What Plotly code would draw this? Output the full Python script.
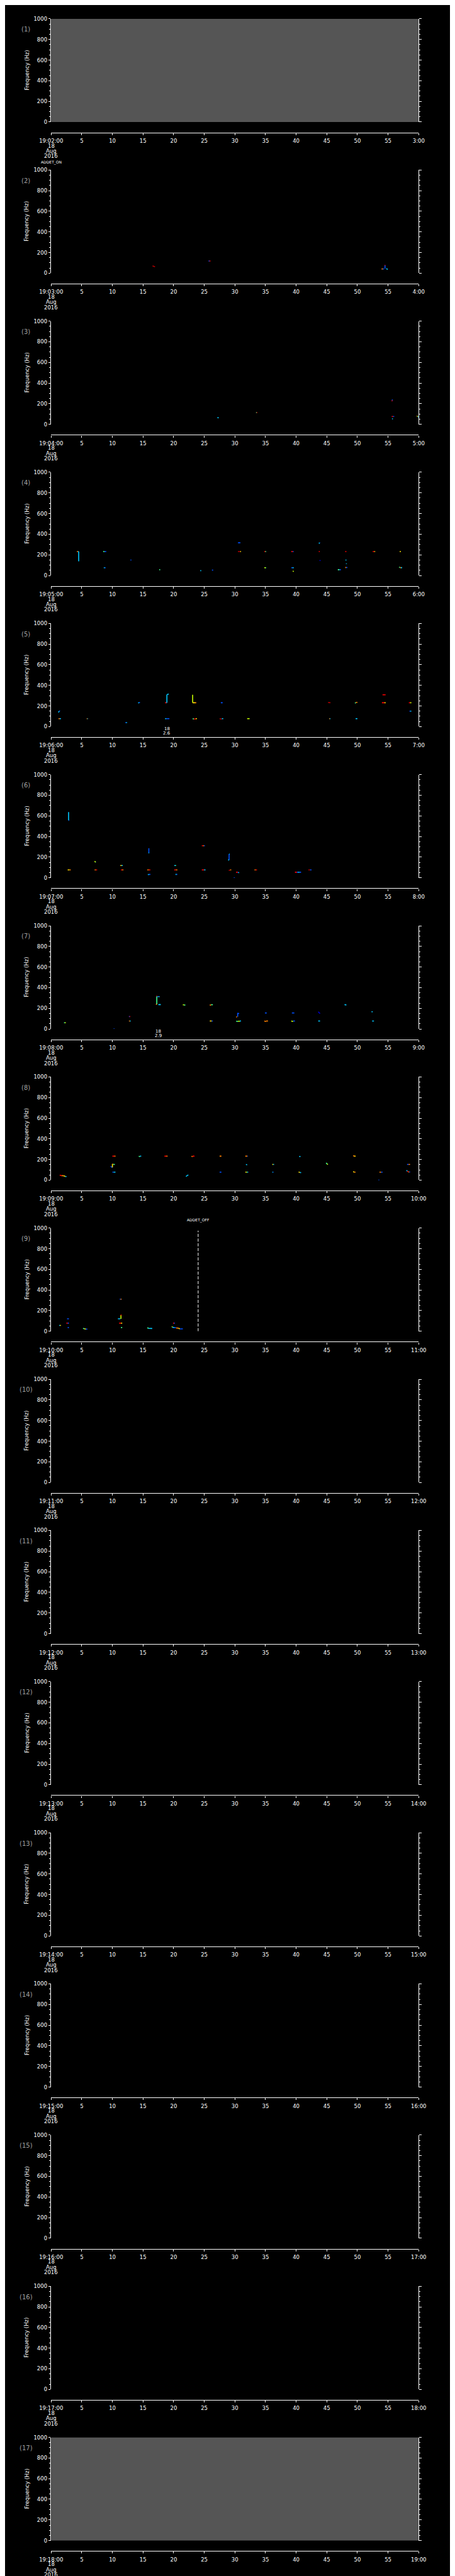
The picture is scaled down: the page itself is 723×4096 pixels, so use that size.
import plotly.graph_objects as go

# ---------------- data ----------------
START_MINUTES = list(range(2, 19))          # panel k starts at 19:MM:00
DATE_LINES = ["18", "Aug", "2016"]
X_TICK_SECONDS = list(range(0, 61, 5))
Y_TICKS = [0, 200, 400, 600, 800, 1000]
T_RANGE = [0, 60]
F_RANGE = [0, 1000]
GRAY_PANELS = [1, 17]                        # panels with no data (filled gray)
ADDET_ON_PANEL, ADDET_ON_T = 1, 0.0
ADDET_OFF_PANEL, ADDET_OFF_T, ADDET_OFF_FTOP = 9, 24.0, 975
EVENTS = [(5, 18.9, "18", "2.6"), (7, 17.5, "18", "2.9")]

# marks: (t0 [s], t1 [s], f0 [Hz], f1 [Hz], power level 0..8)
P02_MARKS = [
    (16.55, 16.96, 71, 61, 8), (25.7, 25.85, 118, 118, 1), (25.85, 26.0, 118, 118, 7),
    (54.5, 54.5, 77, 44, 1), (54.45, 54.55, 77, 77, 7), (54.7, 54.95, 44, 37, 2),
    (53.95, 54.15, 41, 41, 6), (54.15, 54.35, 41, 41, 1),
]
P03_MARKS = [
    (27.15, 27.35, 66, 62, 2), (33.45, 33.55, 114, 114, 3), (33.55, 33.65, 114, 114, 7),
    (55.7, 55.7, 240, 232, 1), (55.65, 55.65, 232, 224, 7), (55.6, 55.8, 76, 76, 7),
    (55.8, 56.0, 76, 76, 1), (55.65, 55.8, 53, 53, 2), (59.7, 59.85, 80, 77, 5),
    (59.85, 60.0, 74, 71, 2),
]
P04_MARKS = [
    (4.2, 4.4, 232, 232, 6), (4.4, 4.5, 232, 232, 2), (4.5, 4.5, 232, 137, 2),
    (8.5, 8.7, 234, 230, 3), (8.7, 9.0, 232, 232, 1), (8.6, 8.75, 76, 74, 2), (8.75, 8.9, 75, 75, 1),
    (12.95, 13.1, 150, 150, 1), (17.65, 17.8, 56, 56, 3), (24.35, 24.5, 47, 47, 2),
    (26.25, 26.45, 52, 52, 1), (30.5, 30.9, 317, 317, 1), (30.5, 30.85, 232, 232, 8),
    (30.85, 31.0, 232, 232, 5), (34.8, 34.95, 232, 232, 7), (34.95, 35.1, 232, 232, 3),
    (34.8, 35.0, 77, 73, 4), (35.0, 35.1, 75, 75, 3), (39.2, 39.45, 232, 232, 7),
    (39.45, 39.6, 232, 232, 1), (39.2, 39.4, 75, 75, 1), (39.4, 39.6, 75, 75, 2),
    (39.45, 39.6, 43, 39, 4), (43.7, 43.85, 317, 310, 2), (43.85, 43.9, 317, 317, 1),
    (43.7, 43.85, 232, 232, 7), (43.9, 43.9, 150, 140, 0), (46.8, 47.05, 56, 56, 3),
    (47.05, 47.3, 56, 56, 1), (48.0, 48.2, 232, 232, 7), (48.05, 48.2, 150, 150, 2),
    (48.2, 48.2, 117, 111, 2), (48.0, 48.15, 77, 77, 6), (48.15, 48.35, 77, 77, 1),
    (52.5, 52.75, 232, 232, 7), (52.75, 52.9, 232, 232, 5), (56.9, 57.1, 232, 232, 5),
    (56.8, 56.95, 82, 77, 3), (56.95, 57.1, 76, 76, 6), (57.1, 57.3, 76, 76, 2),
]
P05_MARKS = [
    (1.2, 1.3, 137, 150, 2), (1.3, 1.45, 152, 152, 1), (1.2, 1.4, 77, 77, 6), (1.4, 1.6, 77, 77, 2),
    (5.8, 5.9, 77, 77, 6), (5.9, 6.0, 77, 77, 2), (12.1, 12.25, 39, 39, 1), (12.25, 12.4, 39, 39, 2),
    (14.2, 14.35, 233, 230, 2), (14.35, 14.5, 233, 233, 1),
    (18.6, 18.8, 232, 232, 7), (18.8, 18.9, 232, 232, 2), (18.9, 18.9, 232, 310, 2),
    (18.9, 19.2, 310, 316, 2), (18.6, 18.8, 77, 77, 2), (18.8, 19.3, 77, 77, 1),
    (23.1, 23.1, 309, 232, 4), (23.1, 23.5, 232, 232, 5), (23.5, 23.7, 232, 232, 6),
    (23.1, 23.3, 77, 74, 3), (23.3, 23.6, 74, 74, 7), (23.6, 23.8, 77, 77, 5),
    (27.7, 28.0, 232, 232, 1), (27.5, 27.85, 77, 72, 8), (27.85, 28.1, 77, 77, 2),
    (32.0, 32.4, 77, 77, 4), (45.2, 45.6, 234, 232, 8), (45.4, 45.5, 77, 77, 6),
    (45.5, 45.6, 77, 77, 2), (49.6, 49.75, 228, 232, 3), (49.75, 50.0, 234, 236, 6),
    (49.7, 50.0, 77, 77, 2), (54.1, 54.6, 309, 309, 7), (54.0, 54.4, 232, 232, 7),
    (54.4, 54.6, 232, 232, 5), (58.4, 58.6, 232, 232, 7), (58.6, 58.8, 232, 232, 4),
    (58.5, 58.65, 150, 150, 1), (58.65, 58.8, 150, 150, 2),
]
P06_MARKS = [
    (2.85, 2.85, 637, 558, 2), (2.85, 2.95, 556, 556, 1), (2.7, 3.0, 76, 76, 5), (3.0, 3.2, 76, 76, 6),
    (7.1, 7.25, 161, 152, 4), (7.25, 7.3, 152, 150, 2), (7.1, 7.3, 76, 76, 6), (7.3, 7.5, 76, 76, 7),
    (11.3, 11.5, 119, 119, 5), (11.5, 11.7, 119, 119, 2), (11.4, 11.6, 76, 76, 7), (11.6, 11.8, 76, 76, 6),
    (15.95, 15.95, 287, 241, 1), (15.9, 16.0, 241, 241, 2), (15.7, 15.95, 76, 76, 6),
    (15.95, 16.2, 76, 76, 7), (15.8, 15.95, 33, 29, 2), (15.95, 16.2, 33, 33, 1),
    (20.1, 20.3, 119, 119, 2), (20.3, 20.4, 119, 119, 3), (20.1, 20.35, 76, 76, 7),
    (20.35, 20.6, 76, 76, 6), (20.3, 20.45, 33, 33, 2), (20.45, 20.6, 33, 33, 1),
    (24.6, 24.8, 311, 311, 7), (24.8, 24.95, 311, 311, 6), (24.95, 25.1, 311, 311, 1),
    (24.6, 24.95, 76, 76, 7), (24.95, 25.2, 76, 76, 2),
    (29.05, 29.05, 230, 173, 1), (29.05, 29.15, 230, 230, 2), (28.9, 29.05, 175, 170, 2),
    (29.0, 29.2, 72, 74, 8), (29.2, 29.4, 76, 76, 6), (30.2, 30.45, 54, 54, 7),
    (30.45, 30.55, 54, 50, 1), (30.55, 30.7, 50, 50, 2), (29.8, 30.0, 0, 0, 1),
    (33.2, 33.4, 76, 76, 6), (33.4, 33.6, 76, 76, 7), (39.8, 40.1, 54, 54, 7),
    (40.1, 40.3, 54, 54, 1), (40.3, 40.5, 54, 54, 2), (40.5, 40.8, 54, 54, 1),
    (42.0, 42.25, 76, 76, 8), (42.25, 42.5, 76, 76, 1),
]
P07_MARKS = [
    (2.1, 2.25, 60, 60, 3), (2.25, 2.4, 60, 60, 4), (10.2, 10.35, 0, 0, 1),
    (12.7, 12.8, 120, 120, 1), (12.8, 12.9, 120, 120, 7), (12.7, 12.85, 77, 77, 6), (12.85, 13.0, 77, 77, 2),
    (17.2, 17.3, 319, 319, 7), (17.3, 17.5, 313, 313, 1), (17.5, 17.7, 313, 313, 2),
    (17.25, 17.25, 316, 239, 3), (17.1, 17.25, 239, 239, 6), (17.5, 17.9, 236, 236, 2),
    (21.5, 21.7, 234, 234, 4), (21.7, 21.9, 234, 230, 3), (25.9, 26.1, 233, 230, 6),
    (26.1, 26.4, 235, 235, 3), (25.9, 26.2, 77, 77, 5), (26.2, 26.4, 77, 77, 1),
    (30.45, 30.45, 156, 119, 1), (30.2, 30.35, 118, 115, 6), (30.45, 30.7, 150, 150, 1),
    (30.2, 30.5, 75, 72, 3), (30.5, 30.8, 75, 75, 4), (30.8, 31.0, 77, 77, 2),
    (34.9, 35.2, 155, 155, 1), (34.8, 35.1, 77, 72, 6), (35.1, 35.4, 77, 77, 6),
    (39.3, 39.7, 155, 155, 1), (39.2, 39.5, 77, 72, 4), (39.5, 39.8, 77, 77, 1),
    (43.6, 43.9, 167, 149, 0), (43.6, 43.9, 77, 77, 2), (47.9, 48.2, 236, 232, 2),
    (52.3, 52.5, 167, 167, 2), (52.4, 52.7, 77, 77, 2),
]
P08_MARKS = [
    (1.4, 1.7, 49, 43, 7), (1.7, 2.0, 43, 43, 6), (2.0, 2.3, 43, 37, 5), (2.3, 2.5, 37, 33, 2),
    (9.7, 10.0, 133, 123, 1), (10.0, 10.0, 157, 123, 5), (10.0, 10.1, 157, 157, 6),
    (10.1, 10.4, 152, 152, 3), (10.0, 10.3, 232, 232, 7), (10.3, 10.5, 232, 232, 6),
    (10.0, 10.2, 77, 77, 1), (10.2, 10.5, 77, 77, 2), (14.3, 14.5, 232, 226, 3),
    (14.5, 14.7, 232, 232, 2), (18.5, 18.8, 232, 232, 7), (18.8, 19.0, 232, 232, 6),
    (22.9, 23.1, 232, 226, 6), (23.1, 23.4, 232, 232, 7), (22.0, 22.4, 36, 51, 2),
    (27.5, 27.8, 232, 232, 6), (27.5, 27.8, 77, 77, 1), (31.7, 32.0, 232, 232, 6),
    (32.0, 32.1, 232, 232, 1), (31.8, 32.0, 153, 147, 2), (31.7, 31.9, 77, 77, 5),
    (31.9, 32.1, 77, 77, 3), (32.1, 32.2, 77, 77, 1), (36.1, 36.25, 152, 152, 5),
    (36.25, 36.4, 152, 152, 2), (36.1, 36.2, 77, 77, 2), (36.2, 36.3, 77, 77, 1),
    (40.5, 40.7, 229, 229, 2), (40.4, 40.6, 79, 75, 5), (40.6, 40.8, 75, 72, 2),
    (44.9, 45.05, 167, 155, 3), (45.05, 45.2, 155, 152, 4), (49.3, 49.5, 237, 232, 6),
    (49.5, 49.7, 232, 232, 5), (49.3, 49.5, 82, 77, 5), (49.5, 49.7, 77, 77, 6),
    (53.4, 53.6, 0, 0, 1), (53.6, 53.85, 77, 77, 6), (53.85, 54.1, 77, 77, 1),
    (58.1, 58.35, 152, 152, 1), (58.35, 58.6, 152, 152, 6), (58.0, 58.15, 94, 88, 2),
    (58.15, 58.3, 88, 79, 7), (58.3, 58.45, 79, 79, 6), (58.45, 58.6, 79, 79, 1),
]
P09_MARKS = [
    (1.3, 1.45, 57, 57, 2), (1.45, 1.6, 57, 57, 5), (2.6, 2.9, 121, 121, 1),
    (2.5, 2.7, 79, 79, 7), (2.7, 2.9, 79, 79, 1), (2.7, 2.9, 36, 36, 1),
    (5.2, 5.45, 28, 25, 3), (5.45, 5.65, 24, 21, 5), (5.65, 5.9, 21, 21, 1),
    (11.2, 11.35, 311, 311, 1), (11.35, 11.5, 311, 311, 6), (11.4, 11.4, 157, 121, 4),
    (11.35, 11.5, 157, 157, 7), (10.9, 11.3, 121, 121, 2), (11.1, 11.4, 79, 79, 7),
    (11.4, 11.6, 79, 79, 5), (11.4, 11.6, 36, 36, 3), (15.7, 15.9, 33, 30, 3),
    (15.9, 16.5, 28, 27, 2), (19.9, 20.05, 79, 79, 7), (20.05, 20.2, 79, 79, 1),
    (19.7, 19.8, 46, 40, 4), (19.8, 20.1, 38, 36, 2), (20.1, 20.4, 36, 34, 1),
    (20.4, 20.8, 32, 30, 6), (20.8, 21.0, 29, 23, 5), (21.0, 21.5, 23, 23, 1),
]
PANEL_MARKS = {2: P02_MARKS, 3: P03_MARKS, 4: P04_MARKS, 5: P05_MARKS,
               6: P06_MARKS, 7: P07_MARKS, 8: P08_MARKS, 9: P09_MARKS}

# ---------------- styling / geometry (reference pixels) ----------------
LEVEL_COLORS = ["#0000c8", "#0050ff", "#00c8ff", "#40ff90", "#c8ff00",
                "#ffe000", "#ff8000", "#ff0000", "#b00000"]
REF_W, REF_H = 1024.0, 5802.0
N = 17
SLOT = REF_H / N
X0, X1 = 80.3, 944.5
PLOT_TOP, PLOT_BOT, AXIS_Y = 24.0, 257.0, 280.6
FONT = "DejaVu Sans"
TICKFONT = dict(family=FONT, size=8.5, color="white")


def py(y):
    return 1 - y / REF_H


def pxp(x):
    return x / REF_W


fig = go.Figure()
annotations = []
layout = dict(
    width=723, height=4096, margin=dict(l=0, r=0, t=0, b=0),
    paper_bgcolor="black", plot_bgcolor="black", showlegend=False,
)

for k in range(1, N + 1):
    slot = (k - 1) * SLOT
    sfx = "" if k == 1 else str(k)
    xname, yname = "x" + sfx, "y" + sfx
    m = START_MINUTES[k - 1]
    ticktext = ["19:%02d:00" % m] + [str(s) for s in X_TICK_SECONDS[1:-1]] + ["%d:00" % (m + 1)]
    layout["xaxis" + sfx] = dict(
        domain=[pxp(X0), pxp(X1)], range=T_RANGE, anchor="free", position=py(slot + AXIS_Y),
        showline=True, linecolor="white", linewidth=1.4,
        ticks="outside", ticklen=3, tickwidth=1, tickcolor="white",
        tickvals=X_TICK_SECONDS, ticktext=ticktext, tickfont=TICKFONT,
        ticklabelstandoff=2,
        showgrid=False, zeroline=False, fixedrange=True,
    )
    layout["yaxis" + sfx] = dict(
        domain=[py(slot + PLOT_BOT), py(slot + PLOT_TOP)], range=F_RANGE, anchor=xname,
        showline=True, linecolor="white", linewidth=1, mirror="ticks",
        ticks="outside", ticklen=3.5, tickwidth=1, tickcolor="white",
        tickvals=Y_TICKS, tickfont=TICKFONT,
        minor=dict(ticks="outside", dtick=50, ticklen=2, tickcolor="white", tickwidth=1),
        showgrid=False, zeroline=False, fixedrange=True,
    )

    # base trace: gray "no data" fill for empty-record panels, otherwise invisible anchor
    if k in GRAY_PANELS:
        fig.add_trace(go.Scatter(
            x=[T_RANGE[0], T_RANGE[1], T_RANGE[1], T_RANGE[0], T_RANGE[0]],
            y=[F_RANGE[0], F_RANGE[0], F_RANGE[1], F_RANGE[1], F_RANGE[0]],
            xaxis=xname, yaxis=yname, mode="lines", fill="toself",
            fillcolor="#555555", line=dict(width=0, color="#555555"), hoverinfo="skip"))
    else:
        fig.add_trace(go.Scatter(x=T_RANGE, y=F_RANGE, xaxis=xname, yaxis=yname,
                                 mode="markers", marker=dict(opacity=0, size=1),
                                 hoverinfo="skip"))

    # date lines under the first tick label
    for i, txt in enumerate(DATE_LINES):
        annotations.append(dict(
            x=0, xref=xname, y=py(slot + 310.3 + 12.0 * i), yref="paper",
            text=txt, showarrow=False, font=TICKFONT, xanchor="center", yanchor="middle"))
    # panel number
    annotations.append(dict(
        x=pxp(21), xref="paper", y=py(slot + 48), yref="paper", text="(%d)" % k,
        showarrow=False, font=dict(family=FONT, size=10, color="#a0a0a0"),
        xanchor="center", yanchor="middle"))
    # y title
    annotations.append(dict(
        x=pxp(23), xref="paper", y=py(slot + (PLOT_TOP + PLOT_BOT) / 2), yref="paper",
        text="Frequency (Hz)", textangle=-90, showarrow=False,
        font=dict(family=FONT, size=8.5, color="white"),
        xanchor="center", yanchor="middle"))

    marks = PANEL_MARKS.get(k, [])
    for lev, col in enumerate(LEVEL_COLORS):
        xs, ys = [], []
        for (t0, t1, f0, f1, lv) in marks:
            if lv != lev:
                continue
            xs += [t0, t1, None]
            ys += [f0, f1, None]
        if xs:
            fig.add_trace(go.Scatter(x=xs, y=ys, xaxis=xname, yaxis=yname, mode="lines",
                                     line=dict(color=col, width=1.6), hoverinfo="skip"))

    if k == ADDET_OFF_PANEL:
        fig.add_trace(go.Scatter(x=[ADDET_OFF_T, ADDET_OFF_T], y=[0, ADDET_OFF_FTOP],
                                 xaxis=xname, yaxis=yname, mode="lines",
                                 line=dict(color="white", width=1, dash="5px,2.5px"),
                                 hoverinfo="skip"))
        annotations.append(dict(x=ADDET_OFF_T, xref=xname, y=py(slot + 6.5), yref="paper",
                                text="ADDET_OFF", showarrow=False,
                                font=dict(family=FONT, size=6, color="white"),
                                xanchor="center", yanchor="middle"))
    if k == ADDET_ON_PANEL:
        annotations.append(dict(x=ADDET_ON_T, xref=xname, y=py(slot + 347.7), yref="paper",
                                text="ADDET_ON", showarrow=False,
                                font=dict(family=FONT, size=6, color="white"),
                                xanchor="center", yanchor="middle"))
    for (pk, t, l1, l2) in EVENTS:
        if pk == k:
            annotations.append(dict(x=t, xref=xname, y=py(slot + 262.8), yref="paper", text=l1,
                                    showarrow=False, font=dict(family=FONT, size=7, color="white"),
                                    xanchor="center", yanchor="middle"))
            annotations.append(dict(x=t, xref=xname, y=py(slot + 271.8), yref="paper", text=l2,
                                    showarrow=False, font=dict(family=FONT, size=7, color="white"),
                                    xanchor="center", yanchor="middle"))

layout["annotations"] = annotations
fig.update_layout(**layout)
fig.write_html("out.html")
